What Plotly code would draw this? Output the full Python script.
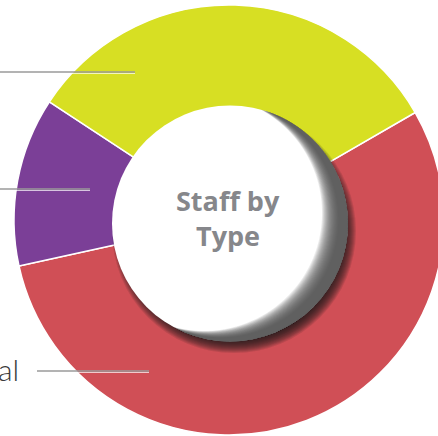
import math
import plotly.graph_objects as go

# ---- data ----
categories = ["Clinical", "Administrative", "Support"]
values = [54.9, 12.7, 32.4]
colors = ["#d04f56", "#7b3f97", "#d7df23"]
center_title = ["Staff by", "Type"]

# ---- canvas helpers (pixel -> paper) ----
W, H = 452, 436


def px(x):
    return x / W


def py(y):
    return 1 - y / H


def circle(cx, cy, r, fill):
    return dict(type="circle", xref="paper", yref="paper",
                x0=px(cx - r), x1=px(cx + r), y0=py(cy + r), y1=py(cy - r),
                fillcolor=fill, line_width=0, layer="above")


def lune(gx, gy, R, d, psi_deg, fill, n=60):
    """Region inside circle (gx,gy,R) but outside the same circle shifted by d against direction psi."""
    psi = math.radians(psi_deg)
    ux, uy = math.cos(psi), math.sin(psi)
    vx, vy = -uy, ux
    b0 = math.acos(-d / (2 * R))
    g0 = math.acos(d / (2 * R))
    pts = []
    for i in range(n + 1):
        b = -b0 + 2 * b0 * i / n
        pts.append((gx + R * (math.cos(b) * ux + math.sin(b) * vx),
                    gy + R * (math.cos(b) * uy + math.sin(b) * vy)))
    cx, cy = gx - d * ux, gy - d * uy
    for i in range(n + 1):
        g = g0 - 2 * g0 * i / n
        pts.append((cx + R * (math.cos(g) * ux + math.sin(g) * vx),
                    cy + R * (math.cos(g) * uy + math.sin(g) * vy)))
    path = "M " + " L ".join(f"{px(x):.5f},{py(y):.5f}" for x, y in pts) + " Z"
    return dict(type="path", xref="paper", yref="paper", path=path,
                fillcolor=fill, line_width=0, layer="above")


fig = go.Figure(
    go.Pie(
        labels=categories,
        values=values,
        sort=False,
        direction="clockwise",
        rotation=60,
        hole=0.502,
        marker=dict(colors=colors, line=dict(color="white", width=1.5)),
        textinfo="none",
        hoverinfo="label+percent",
        domain=dict(x=[px(14), px(444)], y=[py(435), py(5)]),
        showlegend=False,
    )
)

shapes = []
# soft outer drop shadow (towards lower right)
sx, sy = 234, 231
for r in range(100, 123):
    shapes.append(circle(sx, sy, r, "rgba(25,25,25,0.12)"))

# centre disc with shading along its right / lower edge
gx, gy, gr = 230, 223.5, 118
shapes.append(circle(gx, gy, gr, "white"))
nl = 20
for k in range(nl):
    d = 10 + 18 * k / (nl - 1)
    shapes.append(lune(gx, gy, gr, d, 22, "rgba(85,85,85,0.11)"))

# leader lines (label side is off to the left)
leaders = [(37, 149, 371), (-60, 90, 189), (-60, 135, 72)]
for x0, x1, y in leaders:
    shapes.append(dict(type="line", xref="paper", yref="paper",
                       x0=px(x0), x1=px(x1), y0=py(y), y1=py(y),
                       line=dict(color="#9a9a9a", width=1.5), layer="above"))
    shapes.append(dict(type="line", xref="paper", yref="paper",
                       x0=px(x0), x1=px(x1), y0=py(y + 1.5), y1=py(y + 1.5),
                       line=dict(color="rgba(255,255,255,0.7)", width=1), layer="above"))

annotations = [
    dict(text=categories[0], xref="paper", yref="paper", x=px(21), y=py(369),
         xanchor="right", yanchor="middle", showarrow=False,
         font=dict(family="Lato", size=30, color="#3a3a3a", weight=300)),
]

for txt, ty in zip(center_title, [200.5, 235.5]):
    annotations.append(dict(text=txt, xref="paper", yref="paper", x=px(228), y=py(ty),
                            xanchor="center", yanchor="middle", showarrow=False,
                            font=dict(family="Open Sans", size=27, color="#86878b", weight=700)))

fig.update_layout(
    width=W, height=H, autosize=False,
    margin=dict(l=0, r=0, t=0, b=0),
    paper_bgcolor="white", plot_bgcolor="white",
    shapes=shapes, annotations=annotations,
)

fig.write_html("out.html", config={"displayModeBar": False},
               post_script="document.body.style.margin='0';document.body.style.overflow='hidden';")
